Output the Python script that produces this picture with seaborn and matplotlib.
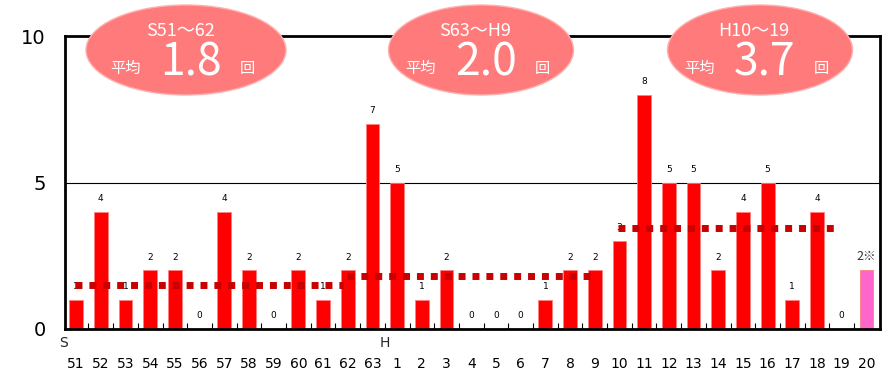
import matplotlib
matplotlib.use("Agg")
import matplotlib.pyplot as plt
from matplotlib.patches import Ellipse
import seaborn as sns
import pandas as pd

# data
years = ["51", "52", "53", "54", "55", "56", "57", "58", "59", "60", "61", "62", "63",
         "1", "2", "3", "4", "5", "6", "7", "8", "9", "10", "11", "12", "13", "14",
         "15", "16", "17", "18", "19", "20"]
counts = [1, 4, 1, 2, 2, 0, 4, 2, 0, 2, 1, 2, 7,
          5, 1, 2, 0, 0, 0, 1, 2, 2, 3, 8, 5, 5, 2,
          4, 5, 1, 4, 0, 2]
value_labels = [str(c) for c in counts[:-1]] + ["2※"]
era_marks = {"51": "S", "1": "H"}

period_names = ["S51～62", "S63～H9", "H10～19"]
period_means = ["1.8", "2.0", "3.7"]
period_first = [0, 11, 22]      # index where the dotted line starts
period_last = [11, 21, 31]      # index where the dotted line ends
period_line_y = [1.5, 1.8, 3.45]

bar_colours = ["#ff0000"] * (len(years) - 1) + ["#ff66cc"]

W, H = 886, 373
fig = plt.figure(figsize=(W / 100, H / 100), dpi=100)
ax = fig.add_axes([65 / W, 1 - 329 / H, (880 - 65) / W, (329 - 36) / H])
sns.set_style("white")
plt.rcParams["font.family"] = ["DejaVu Sans"]
jp = ["Noto Sans CJK JP", "DejaVu Sans"]

df = pd.DataFrame({"year": years, "count": counts})
sns.barplot(data=df, x="year", y="count", hue="year", palette=bar_colours,
            saturation=1, legend=False, width=0.56, edgecolor="#ff8080",
            linewidth=0.6, ax=ax)

for i, (c, lab) in enumerate(zip(counts, value_labels)):
    if "※" in lab:
        ax.text(i, c + 0.25, lab, ha="center", va="bottom", fontsize=9,
                color="#333333", family=jp)
    else:
        ax.text(i, c + 0.3, lab, ha="center", va="bottom", fontsize=6.5,
                color="black")

# average lines per period
for s, e, y in zip(period_first, period_last, period_line_y):
    ax.plot([s - 0.05, e - 0.2], [y, y], color="#c80000", lw=5,
            linestyle=(0, (1, 1)), solid_capstyle="butt", zorder=3)

ax.axhline(5, color="black", lw=0.8, zorder=0)
ax.set_xlim(-0.45, len(years) - 0.45)
ax.set_ylim(0, 10)
ax.set_yticks([0, 5, 10])
ax.set_yticklabels(["0", "5", "10"], fontsize=14)
ax.tick_params(axis="y", length=0, pad=14)
ax.set_xticks(range(len(years)))
ax.set_xticklabels(years, fontsize=10)
ax.tick_params(axis="x", length=0, pad=20)
ax.set_xticks([i + 0.5 for i in range(len(years) - 1)], minor=True)
ax.tick_params(axis="x", which="minor", direction="in", length=4, width=0.8)
ax.set_xlabel("")
ax.set_ylabel("")
for sp in ax.spines.values():
    sp.set_visible(True)
    sp.set_color("black")
    sp.set_linewidth(2)

for i, y in enumerate(years):
    if y in era_marks:
        ax.text(i - 0.5, -0.25, era_marks[y], ha="center", va="top", fontsize=10)

# period bubbles (pixel layout)
bubble_cx = [186, 481, 760]
bubble_w = [200, 185, 185]
for cx, bw, name, mean in zip(bubble_cx, bubble_w, period_names, period_means):
    fig.patches.append(Ellipse((cx / W, 1 - 50 / H), bw / W, 90 / H,
                               transform=fig.transFigure, facecolor="#ff7b7b",
                               edgecolor="#ffb0b0", lw=1, zorder=5))
    fig.text((cx - 6) / W, 1 - 31 / H, name, ha="center", va="center",
             color="white", fontsize=13, family=jp, zorder=6)
    fig.text((cx - 61) / W, 1 - 68 / H, "平均", ha="center", va="center",
             color="white", fontsize=11, family=jp, zorder=6)
    fig.text((cx + 5) / W, 1 - 62 / H, mean, ha="center", va="center",
             color="white", fontsize=32, family=jp, zorder=6)
    fig.text((cx + 61) / W, 1 - 68 / H, "回", ha="center", va="center",
             color="white", fontsize=11, family=jp, zorder=6)

fig.savefig("out.png", dpi=100)
